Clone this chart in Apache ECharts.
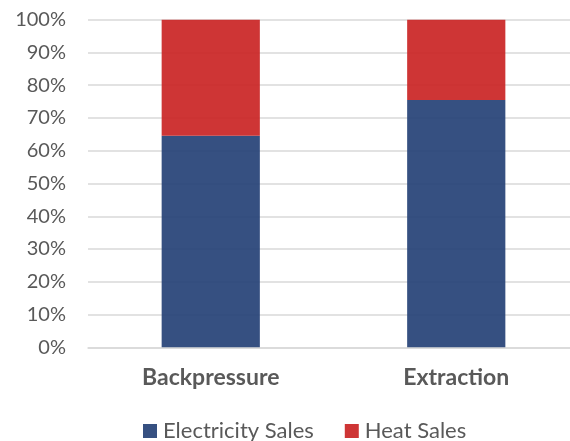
<!DOCTYPE html>
<html>
<head>
<meta charset="utf-8">
<script src="https://cdn.jsdelivr.net/npm/echarts@6/dist/echarts.min.js"></script>
<style>
  html, body { margin: 0; padding: 0; background: #fff; }
  #chart { width: 570px; height: 441px; }
</style>
</head>
<body>
<div id="chart"></div>
<script>
// Revenue split by turbine type (share of total sales)
const categories = ['Backpressure', 'Extraction'];
const electricitySales = [0.646, 0.755];
const heatSales = [0.354, 0.245];
const seriesNames = ['Electricity Sales', 'Heat Sales'];

const FONT = 'Lato, "Open Sans", sans-serif';
const chart = echarts.init(document.getElementById('chart'), null, { renderer: 'canvas' });

chart.setOption({
  animation: false,
  grid: {
    left: 88, top: 19.7, width: 491, height: 327.6,
    containLabel: false, outerBoundsMode: 'none'
  },
  legend: {
    data: seriesNames,
    top: 420,
    left: 143,
    padding: 0,
    icon: 'rect',
    itemWidth: 14,
    itemHeight: 14,
    itemGap: 31,
    textStyle: { color: '#595959', fontSize: 22, fontFamily: FONT, padding: [0, 0, 0, 1] }
  },
  xAxis: {
    type: 'category',
    data: categories,
    axisLine: { lineStyle: { color: '#d9d9d9', width: 1.5 } },
    axisTick: { show: false },
    axisLabel: { color: '#595959', fontSize: 23, fontWeight: 'bold', fontFamily: FONT, margin: 19 }
  },
  yAxis: {
    type: 'value',
    min: 0,
    max: 1,
    interval: 0.1,
    axisLine: { show: false },
    axisTick: { show: false },
    splitLine: { lineStyle: { color: '#d9d9d9', width: 1.5 } },
    axisLabel: {
      color: '#595959', fontSize: 20, fontFamily: FONT, margin: 22,
      formatter: v => Math.round(v * 100) + '%'
    }
  },
  series: [
    {
      name: seriesNames[0],
      type: 'bar',
      stack: 'total',
      data: electricitySales,
      barWidth: '40%',
      itemStyle: { color: '#2b477a', opacity: 0.95 }
    },
    {
      name: seriesNames[1],
      type: 'bar',
      stack: 'total',
      data: heatSales,
      barWidth: '40%',
      itemStyle: { color: '#cb2a2a', opacity: 0.95 }
    }
  ]
});
</script>
</body>
</html>
